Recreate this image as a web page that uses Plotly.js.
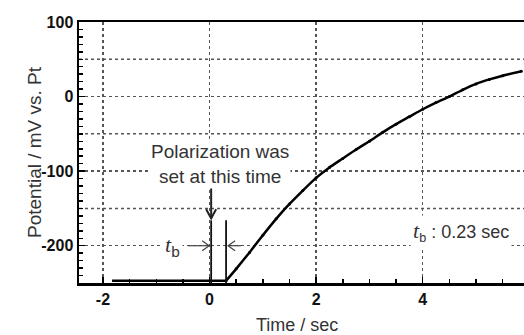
<!DOCTYPE html>
<html>
<head>
<meta charset="utf-8">
<script src="https://cdn.plot.ly/plotly-3.0.1.min.js"></script>
<style>
html,body{margin:0;padding:0;overflow:hidden;background:#fff;}
#chart{width:560px;height:335px;}
</style>
</head>
<body>
<div id="chart"></div>
<script>
// Data
const timeSec = [-1.83, -1.5, -1.0, -0.5, 0.0, 0.31, 0.5, 0.75, 1.0, 1.25, 1.5, 1.75, 2.0, 2.25, 2.5, 2.75, 3.0, 3.25, 3.5, 3.75, 4.0, 4.25, 4.5, 4.75, 5.0, 5.25, 5.5, 5.85];
const potentialMV = [-247, -247, -247, -247, -247, -247, -231, -209, -186, -164, -144, -126, -109, -95, -83, -71, -60, -48, -37, -27, -17, -8, 0, 9, 17, 23, 28, 34];
const xTickVals = [-2, 0, 2, 4, 6];
const xTickText = ['-2', '0', '2', '4', '6'];
const yTickVals = [-200, -100, 0, 100];
const yTickText = ['-200', '-100', '0', '100'];
const yHalfGrid = [-150, -50, 50];
const markerLinesT = [0.03, 0.31];   // polarization set / response start
const tbLabel = '0.23 sec';

const txtColor = '#333';
const riseIdx = timeSec.indexOf(markerLinesT[1]);
const flatTrace = {
  x: timeSec.slice(0, riseIdx + 1), y: potentialMV.slice(0, riseIdx + 1),
  type: 'scatter', mode: 'lines', line: {color: '#000', width: 2.5},
  hoverinfo: 'skip', showlegend: false
};
const riseTrace = {
  x: timeSec.slice(riseIdx), y: potentialMV.slice(riseIdx),
  type: 'scatter', mode: 'lines+markers',
  line: {color: '#000', width: 2.5, shape: 'spline', smoothing: 0.6},
  marker: {color: '#000', size: 3},
  hoverinfo: 'skip', showlegend: false
};

const grey = '#444';
const shapes = [];
yHalfGrid.forEach(v => shapes.push({
  type: 'line', xref: 'paper', yref: 'y', x0: 0, x1: 1, y0: v, y1: v, layer: 'below',
  line: {color: '#555', width: 1.5, dash: 'dot'}
}));
markerLinesT.forEach(t => shapes.push({
  type: 'line', xref: 'x', yref: 'y', x0: t, x1: t, y0: -166, y1: -250,
  line: {color: '#111', width: 1.8}
}));
// down arrow
shapes.push({type: 'line', xref: 'x', yref: 'y', xsizemode: 'pixel', ysizemode: 'pixel',
  xanchor: markerLinesT[0], yanchor: -166, x0: 0, x1: 0, y0: 2, y1: 38,
  line: {color: '#222', width: 2}});
shapes.push({type: 'path', xref: 'x', yref: 'y', xsizemode: 'pixel', ysizemode: 'pixel',
  xanchor: markerLinesT[0], yanchor: -166, path: 'M-5,11 L0,2 L5,11',
  line: {color: '#222', width: 2}});
// left t_b arrow (pointing right)
shapes.push({type: 'line', xref: 'x', yref: 'y', xsizemode: 'pixel', ysizemode: 'pixel',
  xanchor: markerLinesT[0], yanchor: -200, x0: -23, x1: -2, y0: 0, y1: 0,
  line: {color: grey, width: 1.2}});
shapes.push({type: 'path', xref: 'x', yref: 'y', xsizemode: 'pixel', ysizemode: 'pixel',
  xanchor: markerLinesT[0], yanchor: -200, path: 'M-9,-5 L-2,0 L-9,5',
  line: {color: grey, width: 1.2}});
// right t_b arrow (pointing left)
shapes.push({type: 'line', xref: 'x', yref: 'y', xsizemode: 'pixel', ysizemode: 'pixel',
  xanchor: markerLinesT[1], yanchor: -200, x0: 2, x1: 15, y0: 0, y1: 0,
  line: {color: grey, width: 1.2}});
shapes.push({type: 'path', xref: 'x', yref: 'y', xsizemode: 'pixel', ysizemode: 'pixel',
  xanchor: markerLinesT[1], yanchor: -200, path: 'M9,-5 L2,0 L9,5',
  line: {color: grey, width: 1.2}});

const annotations = [
  {xref: 'x', yref: 'y', x: 0.2, y: -90, text: 'Polarization was<br>set at this time',
   showarrow: false, font: {family: 'Liberation Sans, Arial', size: 19, color: txtColor},
   bgcolor: '#fff', borderpad: 1, align: 'center'},
  {xref: 'x', yref: 'y', x: -0.69, y: -200,
   text: '<span style="font-family:Liberation Serif;font-style:italic">t</span><sub>b</sub>',
   showarrow: false, font: {family: 'Liberation Sans, Arial', size: 22, color: txtColor},
   bgcolor: '#fff', borderpad: 2},
  {xref: 'x', yref: 'y', x: 4.71, y: -181,
   text: '<span style="font-family:Liberation Serif;font-style:italic;font-size:22px">t</span><sub>b</sub> : ' + tbLabel,
   showarrow: false, font: {family: 'Liberation Sans, Arial', size: 18, color: txtColor},
   bgcolor: '#fff', borderpad: 2},
  {xref: 'x', yref: 'paper', x: 1.65, y: 0, yshift: -42, yanchor: 'middle',
   text: 'Time / sec', showarrow: false,
   font: {family: 'Liberation Sans, Arial', size: 18, color: txtColor}},
  {xref: 'paper', yref: 'paper', x: 0, xshift: -57, y: 0.5, textangle: -90,
   text: 'Potential / mV vs. Pt', showarrow: false,
   font: {family: 'Liberation Sans, Arial', size: 19, color: txtColor}}
];

const layout = {
  width: 560, height: 335,
  margin: {l: 79, r: 11, t: 22, b: 52},
  paper_bgcolor: '#fff', plot_bgcolor: '#fff',
  xaxis: {
    range: [-2.45, 6.37], tickvals: xTickVals, ticktext: xTickText,
    ticks: 'inside', ticklen: 6, tickwidth: 1.5, tickcolor: '#000',
    showline: true, linecolor: '#000', linewidth: 2.5, mirror: true,
    showgrid: true, gridcolor: '#555', griddash: 'dot', gridwidth: 1.5,
    zeroline: false,
    minor: {dtick: 0.5, tick0: 0, ticks: 'inside', ticklen: 4, tickwidth: 1.5, tickcolor: '#000', showgrid: false},
    tickfont: {family: 'Liberation Sans, Arial', size: 16, weight: 'bold', color: '#111'}
  },
  yaxis: {
    range: [-250, 100], tickvals: yTickVals, ticktext: yTickText,
    ticks: 'inside', ticklen: 6, tickwidth: 1.5, tickcolor: '#000',
    showline: true, linecolor: '#000', linewidth: 2.5,
    showgrid: true, gridcolor: '#555', griddash: 'dot', gridwidth: 1.5,
    zeroline: false,
    minor: {dtick: 10, tick0: 0, ticks: 'inside', ticklen: 4, tickwidth: 1.5, tickcolor: '#000', showgrid: false},
    tickfont: {family: 'Liberation Sans, Arial', size: 16, weight: 'bold', color: '#111'}
  },
  shapes: shapes,
  annotations: annotations
};

Plotly.newPlot('chart', [flatTrace, riseTrace], layout, {staticPlot: true, displayModeBar: false});
</script>
</body>
</html>
